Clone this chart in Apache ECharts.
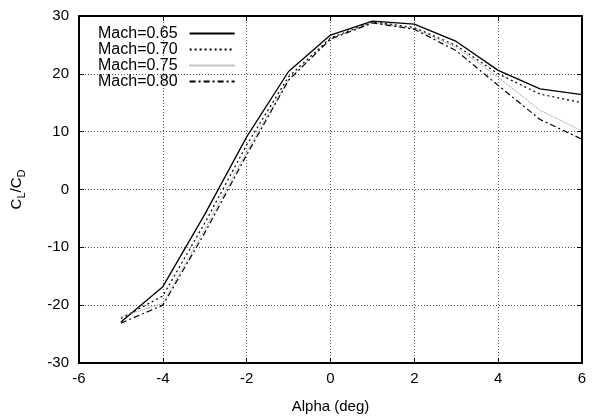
<!DOCTYPE html>
<html>
<head>
<meta charset="utf-8">
<script src="https://cdn.jsdelivr.net/npm/echarts@6/dist/echarts.min.js"></script>
<style>
html,body{margin:0;padding:0;background:#fff;}
#chart{width:596px;height:419px;}
</style>
</head>
<body>
<div id="chart"></div>
<script>
var alpha = [-5, -4, -3, -2, -1, 0, 1, 2, 3, 4, 5, 6];
var seriesNames = ['Mach=0.65', 'Mach=0.70', 'Mach=0.75', 'Mach=0.80'];
var mach065 = [-22.9, -16.8, -4.3, 9.1, 20.4, 26.7, 29.1, 28.6, 25.6, 20.6, 17.4, 16.4];
var mach070 = [-22.3, -18.4, -5.8, 7.7, 19.5, 26.2, 29.0, 28.0, 24.9, 20.0, 16.5, 15.0];
var mach075 = [-22.0, -19.7, -6.9, 6.6, 19.0, 26.1, 28.9, 27.8, 24.6, 19.4, 13.7, 10.1];
var mach080 = [-23.1, -20.0, -7.5, 6.0, 18.9, 26.0, 28.8, 27.7, 24.0, 18.0, 12.1, 8.7];
var xTicks = {min: -6, max: 6, interval: 2};
var yTicks = {min: -30, max: 30, interval: 10};

var values = [mach065, mach070, mach075, mach080];
var styles = [
  {color: '#000', width: 1.3, type: 'solid'},
  {color: '#000', width: 1.2, type: [2, 3]},
  {color: '#888', width: 1, type: [1, 1]},
  {color: '#000', width: 1.2, type: [6, 3, 2, 3]}
];
var font = 'Liberation Sans, Arial, sans-serif';

function pairs(v) { return alpha.map(function (a, i) { return [a, v[i]]; }); }

var series = values.map(function (v, i) {
  return {
    name: seriesNames[i],
    type: 'line',
    data: pairs(v),
    xAxisIndex: 0,
    yAxisIndex: 0,
    symbol: 'none',
    lineStyle: styles[i],
    itemStyle: {color: styles[i].color},
    z: 3
  };
});

var chart = echarts.init(document.getElementById('chart'), null, {renderer: 'canvas'});
chart.setOption({
  animation: false,
  backgroundColor: '#fff',
  grid: {left: 79, right: 14, top: 16, bottom: 54},
  legend: {
    data: seriesNames,
    orient: 'vertical',
    left: 98,
    top: 25.5,
    padding: 0,
    align: 'right',
    itemWidth: 45,
    itemHeight: 14,
    itemGap: 0,
    itemStyle: {opacity: 0},
    textStyle: {fontSize: 16, fontFamily: font, color: '#000', lineHeight: 14, padding: [0, 7, 0, 0]}
  },
  xAxis: [{
    type: 'value', min: xTicks.min, max: xTicks.max, interval: xTicks.interval,
    position: 'bottom',
    name: 'Alpha (deg)', nameLocation: 'middle', nameGap: 36,
    nameTextStyle: {fontSize: 15, fontFamily: font, color: '#000'},
    axisLine: {show: true, onZero: false, lineStyle: {color: '#000', width: 2}},
    axisTick: {show: true, inside: true, length: 5, lineStyle: {color: '#000'}},
    axisLabel: {fontSize: 15, fontFamily: font, color: '#000', margin: 8},
    splitLine: {show: true, lineStyle: {color: '#555', type: [1, 2], width: 1}}
  }, {
    type: 'value', min: xTicks.min, max: xTicks.max, interval: xTicks.interval,
    position: 'top',
    axisLine: {show: true, onZero: false, lineStyle: {color: '#000', width: 2}},
    axisTick: {show: true, inside: true, length: 5, lineStyle: {color: '#000'}},
    axisLabel: {show: false},
    splitLine: {show: false}
  }],
  yAxis: [{
    type: 'value', min: yTicks.min, max: yTicks.max, interval: yTicks.interval,
    position: 'left',
    name: '{a|C}{s|L}{a|/C}{s|D}', nameLocation: 'middle', nameGap: 52, nameRotate: 90,
    nameTextStyle: {
      fontSize: 15, fontFamily: font, color: '#000',
      rich: {
        a: {fontSize: 15, fontFamily: font, color: '#000', lineHeight: 20, verticalAlign: 'middle'},
        s: {fontSize: 11, fontFamily: font, color: '#000', lineHeight: 11, verticalAlign: 'bottom'}
      }
    },
    axisLine: {show: true, onZero: false, lineStyle: {color: '#000', width: 2}},
    axisTick: {show: true, inside: true, length: 5, lineStyle: {color: '#000'}},
    axisLabel: {fontSize: 15, fontFamily: font, color: '#000', margin: 10},
    splitLine: {show: true, lineStyle: {color: '#555', type: [1, 2], width: 1}}
  }, {
    type: 'value', min: yTicks.min, max: yTicks.max, interval: yTicks.interval,
    position: 'right',
    axisLine: {show: true, onZero: false, lineStyle: {color: '#000', width: 2}},
    axisTick: {show: true, inside: true, length: 5, lineStyle: {color: '#000'}},
    axisLabel: {show: false},
    splitLine: {show: false}
  }],
  series: series
});
</script>
</body>
</html>
